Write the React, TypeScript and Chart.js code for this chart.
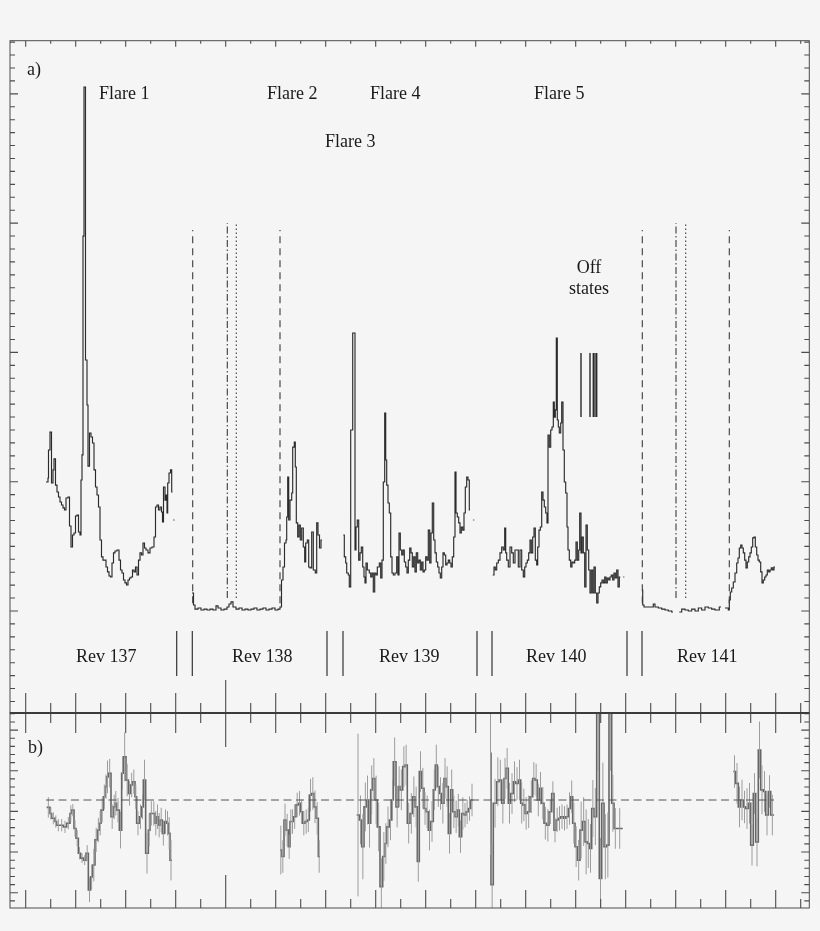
import React, { useEffect, useRef } from "react";
import { Chart, registerables } from "chart.js";

Chart.register(...registerables);

// ---------------- DATA ----------------
// Panel a: light curve, [time (d), count rate] as left bin edges; null = gap
const rev137: [number, number | null][] = [
  [0.406, 99.8], [0.446, 102.9], [0.456, 124.5], [0.486, 138.4], [0.516, 99.0], [0.546, 109.1], [0.566, 117.6],
  [0.596, 97.4], [0.626, 92.0], [0.656, 88.2], [0.686, 84.3], [0.716, 82.0], [0.746, 79.7], [0.776, 78.1],
  [0.806, 87.4], [0.846, 88.2], [0.876, 65.7], [0.906, 49.5], [0.936, 58.8], [0.966, 60.3], [0.996, 73.5],
  [1.026, 74.2], [1.056, 61.1], [1.086, 58.8], [1.106, 101.3], [1.126, 120.7], [1.146, 290.0], [1.166, 405.3],
  [1.196, 194.1], [1.226, 159.3], [1.246, 112.1], [1.276, 137.7], [1.306, 134.6], [1.336, 129.9], [1.366, 109.1],
  [1.396, 95.9], [1.426, 89.7], [1.456, 80.4], [1.486, 54.9], [1.516, 41.8], [1.546, 39.4], [1.576, 39.4],
  [1.606, 34.0], [1.636, 30.2], [1.666, 27.1], [1.696, 26.3], [1.726, 37.1], [1.756, 44.9], [1.786, 46.4],
  [1.826, 47.2], [1.866, 39.4], [1.896, 31.7], [1.926, 29.4], [1.956, 24.0], [1.986, 21.7], [2.016, 20.1],
  [2.046, 24.0], [2.076, 25.5], [2.106, 26.3], [2.136, 31.7], [2.166, 30.2], [2.196, 34.0], [2.226, 27.8],
  [2.256, 39.4], [2.286, 44.9], [2.316, 43.3], [2.346, 52.6], [2.376, 48.7], [2.406, 47.2], [2.446, 44.9],
  [2.486, 48.7], [2.526, 49.5], [2.566, 57.2], [2.596, 80.4], [2.626, 82.0], [2.656, 78.1], [2.686, 80.4],
  [2.716, 76.6], [2.736, 68.8], [2.756, 95.9], [2.786, 85.8], [2.806, 89.7], [2.826, 75.8], [2.84, 99.0],
  [2.866, 106.7], [2.896, 109.1], [2.92, 92.0], [2.936, 92.0], [2.944, null], [2.952, 70.4], [2.976, 70.4]
];

const rev138: [number, number | null][] = [
  [3.326, 13.9], [3.356, 4.6], [3.386, 1.5], [3.446, 2.3], [3.506, 0.8], [3.566, 1.5], [3.626, 0.8], [3.686, 1.5],
  [3.746, 0.8], [3.806, 3.9], [3.846, 2.3], [3.906, 0.8], [3.966, 1.5], [4.026, 3.1], [4.066, 5.4], [4.106, 7.0],
  [4.146, 3.1], [4.206, 1.5], [4.266, 2.3], [4.326, 0.8], [4.386, 1.5], [4.446, 0.8], [4.506, 1.5], [4.566, 2.3],
  [4.626, 0.8], [4.686, 1.5], [4.746, 2.3], [4.806, 0.8], [4.866, 1.5], [4.926, 2.3], [4.986, 0.8], [5.046, 1.5],
  [5.086, 3.1], [5.116, 24.0], [5.146, 34.0], [5.176, 52.6], [5.206, 54.9], [5.22, 72.7], [5.24, 103.6],
  [5.26, 70.4], [5.286, 85.8], [5.32, 91.3], [5.34, 126.8], [5.372, 130.7], [5.392, 111.4], [5.412, 68.1],
  [5.44, 57.2], [5.466, 66.5], [5.492, 54.9], [5.52, 64.2], [5.552, 49.5], [5.58, 37.9], [5.6, 52.6],
  [5.632, 54.9], [5.66, 34.0], [5.686, 33.3], [5.72, 61.1], [5.752, 31.7], [5.792, 29.4], [5.82, 68.1],
  [5.846, 58.8], [5.876, 48.7], [5.906, 54.9], [5.926, 54.9]
];

const rev139: [number, number | null][] = [
  [6.352, 58.8], [6.372, 41.8], [6.4, 37.1], [6.42, 29.4], [6.452, 27.8], [6.472, 18.6], [6.5, 140.0], [6.54, 215.0],
  [6.586, 47.2], [6.606, 65.0], [6.632, 70.4], [6.66, 39.4], [6.686, 44.9], [6.712, 49.5], [6.74, 34.0], [6.766, 26.3],
  [6.786, 21.7], [6.806, 37.1], [6.832, 31.7], [6.872, 29.4], [6.9, 26.3], [6.926, 29.4], [6.952, 14.7], [6.98, 29.4],
  [7.006, 27.8], [7.032, 34.0], [7.072, 37.1], [7.1, 25.5], [7.126, 39.4], [7.152, 99.8], [7.18, 153.1], [7.2, 116.8],
  [7.22, 97.4], [7.246, 83.5], [7.272, 75.8], [7.3, 41.8], [7.326, 29.4], [7.352, 27.8], [7.386, 29.4], [7.42, 41.8],
  [7.446, 27.8], [7.466, 60.3], [7.492, 47.2], [7.52, 43.3], [7.546, 47.2], [7.572, 37.9], [7.6, 34.0], [7.626, 29.4],
  [7.652, 39.4], [7.68, 48.7], [7.706, 44.9], [7.732, 34.0], [7.76, 41.8], [7.786, 30.2], [7.812, 44.9], [7.84, 37.1],
  [7.866, 39.4], [7.892, 31.7], [7.92, 37.9], [7.946, 30.2], [7.972, 31.7], [8.0, 41.8], [8.026, 39.4], [8.052, 62.6],
  [8.08, 37.1], [8.106, 60.3], [8.132, 83.5], [8.16, 54.9], [8.186, 44.9], [8.212, 37.9], [8.24, 34.0], [8.266, 29.4],
  [8.292, 25.5], [8.32, 34.0], [8.346, 44.9], [8.372, 43.3], [8.4, 35.6], [8.426, 37.1], [8.452, 39.4], [8.48, 37.1],
  [8.506, 34.0], [8.532, 41.8], [8.56, 57.2], [8.586, 107.5], [8.606, 75.8], [8.632, 72.7], [8.66, 68.1], [8.686, 60.3],
  [8.712, 65.0], [8.74, 62.6], [8.766, 75.8], [8.792, 95.9], [8.82, 103.6], [8.846, 101.3], [8.872, 78.1], [8.886, 78.1],
  [8.92, null], [8.952, 70.4], [8.972, 70.4]
];

const rev140: [number, number | null][] = [
  [9.34, 27.8], [9.366, 34.0], [9.392, 31.7], [9.42, 37.1], [9.452, 39.4], [9.486, 44.9], [9.52, 49.5], [9.552, 47.2],
  [9.58, 64.2], [9.6, 44.9], [9.62, 39.4], [9.652, 34.0], [9.686, 49.5], [9.72, 44.9], [9.752, 37.1], [9.786, 47.2],
  [9.82, 47.2], [9.852, 34.0], [9.886, 47.2], [9.92, 31.7], [9.952, 26.3], [9.98, 34.0], [10.006, 37.1], [10.032, 39.4],
  [10.06, 44.9], [10.086, 54.9], [10.112, 44.9], [10.14, 57.2], [10.166, 64.2], [10.192, 39.4], [10.22, 35.6],
  [10.24, 49.5], [10.266, 62.6], [10.292, 65.0], [10.32, 92.0], [10.346, 85.8], [10.372, 80.4], [10.4, 75.8],
  [10.426, 68.1], [10.446, 136.1], [10.472, 126.8], [10.5, 140.0], [10.526, 142.3], [10.552, 161.6], [10.572, 150.0],
  [10.592, 155.5], [10.612, 211.1], [10.632, 147.7], [10.652, 142.3], [10.672, 137.7], [10.7, 145.4], [10.72, 161.6],
  [10.746, 124.5], [10.772, 99.8], [10.8, 91.3], [10.826, 65.0], [10.846, 47.2], [10.872, 39.4], [10.9, 34.0],
  [10.926, 37.9], [10.952, 37.1], [10.98, 39.4], [11.006, 53.4], [11.032, 39.4], [11.06, 47.2], [11.08, 75.8],
  [11.106, 44.9], [11.126, 57.2], [11.152, 44.9], [11.18, 18.6], [11.206, 66.5], [11.232, 47.2], [11.26, 31.7],
  [11.286, 13.9], [11.312, 31.7], [11.34, 13.9], [11.366, 34.0], [11.392, 13.9], [11.42, 6.2], [11.446, 13.9],
  [11.472, 18.6], [11.5, 21.7], [11.526, 24.0], [11.552, 21.7], [11.58, 26.3], [11.606, 21.7], [11.632, 25.5],
  [11.66, 24.0], [11.686, 26.3], [11.712, 27.8], [11.74, 24.0], [11.766, 29.4], [11.792, 25.5], [11.82, 31.7],
  [11.846, 18.6], [11.872, 26.3], [11.892, 26.3], [11.92, null], [11.952, 26.3], [11.972, 26.3]
];

const rev141: [number, number | null][] = [
  [12.332, 16.2], [12.34, 4.6], [12.366, 3.1], [12.42, 3.1], [12.486, 3.1], [12.552, 5.4], [12.586, 3.1], [12.652, 2.3],
  [12.72, 1.5], [12.786, 0.8], [12.852, 0], [12.92, -0.8], [12.946, -0.8], [12.96, null], [13.072, -0.8], [13.12, 1.5],
  [13.186, 0.8], [13.252, 0], [13.32, 1.5], [13.386, 0], [13.452, 2.3], [13.52, 0.8], [13.586, 3.1], [13.652, 2.3],
  [13.72, 1.5], [13.786, 0.8], [13.872, 3.1], [13.906, 3.1], [13.94, null], [13.986, 2.3], [14.052, 0.8], [14.072, 8.5],
  [14.092, 14.7], [14.12, 17.8], [14.152, 22.4], [14.186, 29.4], [14.22, 37.1], [14.246, 41.0], [14.272, 48.7],
  [14.3, 51.0], [14.326, 48.7], [14.352, 44.9], [14.38, 39.4], [14.406, 33.3], [14.432, 37.9], [14.46, 41.8],
  [14.486, 44.9], [14.512, 49.5], [14.54, 56.5], [14.566, 57.2], [14.592, 49.5], [14.62, 43.3], [14.646, 39.4],
  [14.672, 37.9], [14.7, 30.2], [14.726, 21.7], [14.752, 24.0], [14.78, 26.3], [14.806, 27.8], [14.832, 31.7],
  [14.86, 30.2], [14.886, 31.7], [14.912, 33.3], [14.94, 31.7], [14.966, 34.0], [14.986, 34.0]
];

// Panel b: hardness ratio, [time (d), ratio, error]
const hr137: [number, number, number][] = [
  [0.419, 0.41, 0.025], [0.486, 0.395, 0.015], [0.519, 0.383, 0.015], [0.586, 0.375, 0.015], [0.619, 0.366, 0.015],
  [0.686, 0.366, 0.015], [0.753, 0.362, 0.015], [0.819, 0.371, 0.015], [0.886, 0.395, 0.02], [0.919, 0.403, 0.015],
  [0.966, 0.358, 0.02], [1.006, 0.334, 0.02], [1.053, 0.297, 0.015], [1.099, 0.285, 0.012], [1.153, 0.28, 0.012],
  [1.206, 0.297, 0.02], [1.253, 0.207, 0.03], [1.299, 0.239, 0.03], [1.339, 0.268, 0.04], [1.386, 0.33, 0.03],
  [1.433, 0.354, 0.03], [1.473, 0.371, 0.03], [1.506, 0.403, 0.03], [1.553, 0.436, 0.03], [1.593, 0.461, 0.03],
  [1.619, 0.485, 0.04], [1.653, 0.494, 0.035], [1.706, 0.387, 0.03], [1.753, 0.411, 0.03], [1.786, 0.42, 0.03],
  [1.819, 0.403, 0.03], [1.873, 0.354, 0.045], [1.919, 0.494, 0.04], [1.953, 0.534, 0.06], [2.006, 0.477, 0.04],
  [2.053, 0.444, 0.03], [2.099, 0.465, 0.03], [2.139, 0.473, 0.03], [2.186, 0.436, 0.03], [2.219, 0.371, 0.03],
  [2.273, 0.387, 0.03], [2.319, 0.411, 0.03], [2.353, 0.477, 0.05], [2.399, 0.297, 0.05], [2.453, 0.354, 0.04],
  [2.486, 0.395, 0.03], [2.539, 0.395, 0.03], [2.586, 0.371, 0.03], [2.619, 0.387, 0.03], [2.653, 0.366, 0.03],
  [2.686, 0.379, 0.03], [2.733, 0.346, 0.03], [2.773, 0.375, 0.03], [2.819, 0.371, 0.03], [2.853, 0.346, 0.04],
  [2.886, 0.28, 0.05], [2.926, 0.28, 0]
];

const hr138: [number, number, number][] = [
  [5.086, 0.305, 0.06], [5.119, 0.289, 0.04], [5.166, 0.379, 0.04], [5.206, 0.354, 0.04], [5.253, 0.313, 0.03],
  [5.286, 0.375, 0.03], [5.319, 0.375, 0.03], [5.353, 0.387, 0.03], [5.406, 0.416, 0.03], [5.453, 0.42, 0.03],
  [5.499, 0.399, 0.03], [5.539, 0.371, 0.03], [5.586, 0.375, 0.03], [5.633, 0.379, 0.03], [5.673, 0.44, 0.04],
  [5.719, 0.444, 0.04], [5.766, 0.411, 0.04], [5.806, 0.383, 0.04], [5.853, 0.289, 0.04], [5.886, 0.289, 0]
];

const hr139: [number, number, number][] = [
  [6.62, 0.391, 0.2], [6.672, 0.379, 0.06], [6.72, 0.313, 0.08], [6.766, 0.411, 0.06], [6.82, 0.428, 0.06],
  [6.852, 0.371, 0.06], [6.9, 0.453, 0.06], [6.94, 0.481, 0.05], [6.986, 0.428, 0.06], [7.032, 0.362, 0.06],
  [7.086, 0.215, 0.07], [7.14, 0.289, 0.06], [7.186, 0.321, 0.05], [7.22, 0.362, 0.05], [7.272, 0.379, 0.05],
  [7.32, 0.428, 0.05], [7.352, 0.522, 0.06], [7.406, 0.411, 0.05], [7.452, 0.461, 0.05], [7.486, 0.453, 0.05],
  [7.54, 0.51, 0.05], [7.586, 0.514, 0.05], [7.632, 0.371, 0.05], [7.686, 0.395, 0.05], [7.74, 0.436, 0.05],
  [7.786, 0.411, 0.05], [7.832, 0.277, 0.05], [7.872, 0.498, 0.05], [7.92, 0.457, 0.05], [7.966, 0.407, 0.04],
  [8.006, 0.399, 0.04], [8.052, 0.354, 0.05], [8.1, 0.375, 0.05], [8.152, 0.453, 0.05], [8.192, 0.514, 0.05],
  [8.232, 0.461, 0.05], [8.272, 0.444, 0.04], [8.32, 0.42, 0.05], [8.366, 0.481, 0.05], [8.406, 0.461, 0.05],
  [8.452, 0.346, 0.05], [8.5, 0.453, 0.05], [8.54, 0.399, 0.04], [8.586, 0.387, 0.04], [8.632, 0.403, 0.04],
  [8.672, 0.338, 0.04], [8.72, 0.395, 0.04], [8.766, 0.391, 0.03], [8.806, 0.399, 0.03], [8.852, 0.407, 0.03],
  [8.9, 0.428, 0.04], [8.952, 0.428, 0]
];

const hr140: [number, number, number][] = [
  [9.286, 0.543, 0.25], [9.306, 0.22, 0.1], [9.352, 0.42, 0.06], [9.42, 0.473, 0.06], [9.466, 0.477, 0.05],
  [9.52, 0.42, 0.05], [9.566, 0.481, 0.05], [9.606, 0.506, 0.05], [9.652, 0.42, 0.05], [9.7, 0.444, 0.05],
  [9.752, 0.473, 0.05], [9.8, 0.469, 0.04], [9.852, 0.477, 0.05], [9.9, 0.42, 0.05], [9.94, 0.416, 0.04],
  [9.986, 0.395, 0.04], [10.032, 0.399, 0.04], [10.086, 0.436, 0.04], [10.14, 0.481, 0.04], [10.186, 0.477, 0.04],
  [10.232, 0.428, 0.04], [10.272, 0.457, 0.04], [10.32, 0.42, 0.04], [10.366, 0.371, 0.04], [10.42, 0.366, 0.04],
  [10.466, 0.399, 0.03], [10.52, 0.444, 0.03], [10.566, 0.354, 0.03], [10.606, 0.379, 0.03], [10.652, 0.383, 0.03],
  [10.7, 0.387, 0.03], [10.752, 0.383, 0.03], [10.8, 0.387, 0.03], [10.852, 0.407, 0.04], [10.9, 0.436, 0.04],
  [10.94, 0.371, 0.05], [10.986, 0.313, 0.05], [11.032, 0.28, 0.05], [11.086, 0.354, 0.07], [11.132, 0.375, 0.06],
  [11.186, 0.325, 0.08], [11.232, 0.321, 0.06], [11.272, 0.309, 0.06], [11.32, 0.407, 0.07], [11.366, 0.387, 0.07],
  [11.42, 0.7, 0.2], [11.472, 0.235, 0.1], [11.52, 0.42, 0.1], [11.566, 0.313, 0.08], [11.62, 0.317, 0.08],
  [11.666, 0.7, 0.2], [11.72, 0.42, 0.07], [11.766, 0.358, 0.05], [11.82, 0.358, 0.05], [11.94, 0.358, 0]
];

const hr141: [number, number, number][] = [
  [14.152, 0.498, 0.04], [14.2, 0.469, 0.05], [14.252, 0.411, 0.05], [14.3, 0.428, 0.05], [14.352, 0.411, 0.04],
  [14.4, 0.407, 0.05], [14.452, 0.42, 0.05], [14.5, 0.317, 0.05], [14.552, 0.444, 0.05], [14.6, 0.325, 0.06],
  [14.652, 0.551, 0.07], [14.7, 0.453, 0.06], [14.752, 0.449, 0.05], [14.8, 0.391, 0.05], [14.852, 0.449, 0.04],
  [14.9, 0.391, 0.05], [14.966, 0.391, 0]
];

const meanRatio = 0.428;
const meanSpan = [0.406, 14.966];

// reference marks (times in days)
const eclipseEdges = [3.34, 5.086, 12.332, 14.072];
const eclipseMidA = [4.032, 13.006];
const eclipseMidB = [4.212, 13.2];
const revBoundaries = [3.02, 3.332, 6.026, 6.346, 9.026, 9.326, 12.026, 12.326];
const offStates = [11.106, 11.286, 11.352, 11.386, 11.42];

const panelALabels = [
  { text: "Flare 1", t: 1.466, v: 400, align: "left" },
  { text: "Flare 2", t: 4.826, v: 400, align: "left" },
  { text: "Flare 4", t: 6.886, v: 400, align: "left" },
  { text: "Flare 5", t: 10.166, v: 400, align: "left" },
  { text: "Flare 3", t: 5.986, v: 362.7, align: "left" },
  { text: "Off", t: 11.266, v: 265.3, align: "center" },
  { text: "states", t: 11.266, v: 249, align: "center" },
  { text: "Rev 137", t: 1.006, v: -35.6, align: "left" },
  { text: "Rev 138", t: 4.126, v: -35.6, align: "left" },
  { text: "Rev 139", t: 7.066, v: -35.6, align: "left" },
  { text: "Rev 140", t: 10.006, v: -35.6, align: "left" },
  { text: "Rev 141", t: 13.026, v: -35.6, align: "left" },
  { text: "a)", t: 0.026, v: 418.4, align: "left" }
];
const panelBLabels = [{ text: "b)", t: 0.046, v: 0.556, align: "left" }];

// ---------------- HELPERS ----------------
const SERIF = '"Liberation Serif", "DejaVu Serif", "Times New Roman", serif';
const BG = "#f5f5f5";

const toPts = (rows: any[]) => rows.map((r) => ({ x: r[0], y: r[1] }));

function verticals(times: number[], y0: number, y1: number) {
  const out: any[] = [];
  times.forEach((t) => {
    out.push({ x: t, y: y0 }, { x: t, y: y1 }, { x: t, y: null });
  });
  return out;
}

function errorSegments(rows: [number, number, number][]) {
  const out: any[] = [];
  for (let i = 0; i < rows.length - 1; i++) {
    const [t, v, e] = rows[i];
    if (!e) continue;
    const tc = (t + rows[i + 1][0]) / 2;
    out.push({ x: tc, y: v - e }, { x: tc, y: v + e }, { x: tc, y: null });
  }
  return out;
}

function vline(data: any[], dash: number[], color = "#333", width = 1) {
  return {
    type: "line",
    data,
    borderColor: color,
    borderWidth: width,
    borderDash: dash,
    pointRadius: 0,
    spanGaps: false,
    fill: false
  };
}

function stepLine(rows: any[], color: string, width: number) {
  return {
    type: "line",
    data: toPts(rows),
    borderColor: color,
    borderWidth: width,
    stepped: "before",
    pointRadius: 0,
    spanGaps: false,
    fill: false
  };
}

function drawFrame(chart: any, spec: any) {
  const { ctx, chartArea: a } = chart;
  const xs = chart.scales.x;
  const ys = chart.scales.y;
  ctx.save();
  ctx.strokeStyle = "#4d4d4d";
  ctx.lineWidth = 1;
  ctx.strokeRect(a.left, a.top, a.right - a.left, a.bottom - a.top);
  ctx.beginPath();
  for (let k = 0; k <= 31; k++) {
    const px = xs.getPixelForValue(k / 2);
    const major = k % 2 === 0;
    const special = k === 8;
    const lt = special ? spec.topSpecial : major ? spec.topMajor : spec.topMinor;
    const lb = special ? spec.botSpecial : major ? spec.botMajor : spec.botMinor;
    ctx.moveTo(px, a.top);
    ctx.lineTo(px, a.top + lt);
    ctx.moveTo(px, a.bottom);
    ctx.lineTo(px, a.bottom - lb);
  }
  for (let k = spec.yFrom; k <= spec.yTo; k++) {
    const py = ys.getPixelForValue(k * spec.yStep);
    if (py < a.top + 0.5 || py > a.bottom - 0.5) continue;
    const major = k % spec.yMajorEvery === 0;
    const len = major ? 8 : 5;
    ctx.moveTo(a.left, py);
    ctx.lineTo(a.left + len, py);
    ctx.moveTo(a.right, py);
    ctx.lineTo(a.right - len, py);
  }
  ctx.lineWidth = 1.1;
  ctx.stroke();
  if (spec.thickTop) {
    ctx.beginPath();
    ctx.lineWidth = 2;
    ctx.strokeStyle = "#3c3c3c";
    ctx.moveTo(a.left, a.top);
    ctx.lineTo(a.right, a.top);
    ctx.stroke();
  }
  ctx.restore();
}

function drawLabels(chart: any, labels: any[]) {
  const { ctx } = chart;
  const xs = chart.scales.x;
  const ys = chart.scales.y;
  ctx.save();
  ctx.font = `18px ${SERIF}`;
  ctx.fillStyle = "#1a1a1a";
  ctx.textBaseline = "middle";
  labels.forEach((l) => {
    ctx.textAlign = l.align;
    ctx.fillText(l.text, xs.getPixelForValue(l.t), ys.getPixelForValue(l.v));
  });
  ctx.restore();
}

const X_MIN = -0.314;
const X_MAX = 15.672;

export default function App() {
  const refA = useRef<HTMLCanvasElement | null>(null);
  const refB = useRef<HTMLCanvasElement | null>(null);

  useEffect(() => {
    document.body.style.margin = "0";
    document.body.style.background = BG;

    const lineCol = "#2b2b2b";
    const chartA = new Chart(refA.current as HTMLCanvasElement, {
      type: "line",
      data: {
        datasets: [
          vline(verticals(eclipseEdges, 6, 294.7), [7, 5], "#3a3a3a", 1.1),
          vline(verticals(eclipseMidA, 10, 300), [7, 2.5, 1.5, 2.5], "#3a3a3a", 1.1),
          vline(verticals(eclipseMidB, 10, 300), [1.5, 2.5], "#3a3a3a", 1.1),
          vline(verticals(revBoundaries, -15.5, -50.3), [], "#333", 1.2),
          vline(verticals(offStates, 150, 199.5), [], "#2a2a2a", 1.4),
          stepLine(rev137, lineCol, 1.15),
          stepLine(rev138, lineCol, 1.15),
          stepLine(rev139, lineCol, 1.15),
          stepLine(rev140, lineCol, 1.15),
          stepLine(rev141, lineCol, 1.15)
        ] as any
      },
      options: {
        animation: false,
        responsive: false,
        events: [],
        layout: { padding: { left: 10, right: 10.7, top: 40.7, bottom: 218 } },
        plugins: { legend: { display: false }, tooltip: { enabled: false } },
        scales: {
          x: { type: "linear", min: X_MIN, max: X_MAX, display: false },
          y: { type: "linear", min: -78.9, max: 441.1, display: false }
        }
      } as any,
      plugins: [
        {
          id: "frameA",
          afterDraw(chart: any) {
            drawFrame(chart, {
              topMajor: 6, topMinor: 3, topSpecial: 6,
              botMajor: 20, botMinor: 10, botSpecial: 33,
              yFrom: -7, yTo: 44, yStep: 10, yMajorEvery: 10, thickTop: false
            });
            drawLabels(chart, panelALabels);
          }
        }
      ]
    });

    const chartB = new Chart(refB.current as HTMLCanvasElement, {
      type: "line",
      data: {
        datasets: [
          vline([{ x: meanSpan[0], y: meanRatio }, { x: meanSpan[1], y: meanRatio }], [8, 4.5], "#555", 1),
          vline(errorSegments(hr137), [], "#9c9c9c", 1),
          vline(errorSegments(hr138), [], "#9c9c9c", 1),
          vline(errorSegments(hr139), [], "#9c9c9c", 1),
          vline(errorSegments(hr140), [], "#9c9c9c", 1),
          vline(errorSegments(hr141), [], "#9c9c9c", 1),
          stepLine(hr137, "#666666", 1.6),
          stepLine(hr138, "#666666", 1.6),
          stepLine(hr139, "#666666", 1.6),
          stepLine(hr140, "#666666", 1.6),
          stepLine(hr141, "#666666", 1.6)
        ] as any
      },
      options: {
        animation: false,
        responsive: false,
        events: [],
        layout: { padding: { left: 10, right: 10.7, top: 713, bottom: 23 } },
        plugins: { legend: { display: false }, tooltip: { enabled: false } },
        scales: {
          x: { type: "linear", min: X_MIN, max: X_MAX, display: false },
          y: { type: "linear", min: 0.1624, max: 0.642, display: false }
        }
      } as any,
      plugins: [
        {
          id: "frameB",
          afterDraw(chart: any) {
            drawFrame(chart, {
              topMajor: 20, topMinor: 10, topSpecial: 34,
              botMajor: 18, botMinor: 9, botSpecial: 33,
              yFrom: 9, yTo: 32, yStep: 0.02, yMajorEvery: 5, thickTop: true
            });
            drawLabels(chart, panelBLabels);
          }
        }
      ]
    });

    return () => {
      chartA.destroy();
      chartB.destroy();
    };
  }, []);

  const canvasStyle: React.CSSProperties = { position: "absolute", left: 0, top: 0 };
  return (
    <div style={{ position: "absolute", left: 0, top: 0, width: 820, height: 931, background: BG }}>
      <canvas ref={refA} width={820} height={931} style={canvasStyle} />
      <canvas ref={refB} width={820} height={931} style={canvasStyle} />
    </div>
  );
}
